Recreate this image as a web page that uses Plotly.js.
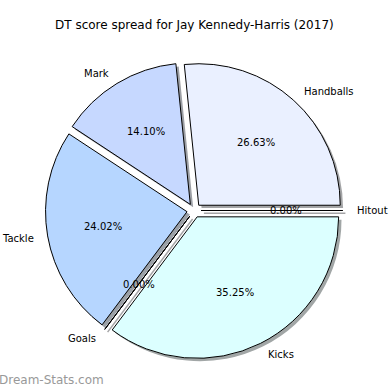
<!DOCTYPE html>
<html>
<head>
<meta charset="utf-8">
<script src="https://cdn.plot.ly/plotly-3.0.1.min.js"></script>
<style>html,body{margin:0;padding:0;background:#fff;}#chart{width:390px;height:390px;}</style>
</head>
<body>
<div id="chart"></div>
<script>
// Data (order as drawn, counterclockwise from 3 o'clock)
const categories = ["Handballs", "Mark", "Tackle", "Goals", "Kicks", "Hitout"];
const percentages = [26.63, 14.10, 24.02, 0.00, 35.25, 0.00];
const sliceColors = ["#eaf0ff", "#c6d8ff", "#b6d6ff", "#f0f0ff", "#dcffff", "#f0f0ff"];
const chartTitle = "DT score spread for Jay Kennedy-Harris (2017)";
const watermark = "Dream-Stats.com";

// Layout geometry (pixels)
const W = 390, H = 390;
const cx = 194, cy = 210.5, R = 141.5;
const explode = 0.05;
const labelDist = 1.085;
const pctDist = 0.6;
const shadowOff = 0.02 * R;
const half = R * (1 + explode);
const px = x => x / W;
const py = y => 1 - y / H;

const domain = {x: [px(cx - half), px(cx + half)], y: [py(cy + half), py(cy - half)]};
const shadowDomain = {x: [px(cx - half + shadowOff), px(cx + half + shadowOff)],
                      y: [py(cy + half + shadowOff), py(cy - half + shadowOff)]};

function shadowColor(hex) {
  const r = parseInt(hex.slice(1,3),16), g = parseInt(hex.slice(3,5),16), b = parseInt(hex.slice(5,7),16);
  const f = c => Math.round(0.5 * c * 0.3 + 0.5 * 255);
  return `rgb(${f(r)},${f(g)},${f(b)})`;
}

const total = percentages.reduce((a, b) => a + b, 0);
// Plotly places the first counterclockwise slice ending at the rotation point,
// so rotate by the first slice's angle to make it start at 3 o'clock.
const rot = 90 - percentages[0] / total * 360;

const pulls = categories.map(() => explode);
const shadowTrace = {
  type: "pie", values: percentages, labels: categories, sort: false,
  direction: "counterclockwise", rotation: rot, pull: pulls,
  marker: {colors: sliceColors.map(shadowColor), line: {width: 0}},
  textinfo: "none", hoverinfo: "skip", showlegend: false, domain: shadowDomain
};
const mainTrace = {
  type: "pie", values: percentages, labels: categories, sort: false,
  direction: "counterclockwise", rotation: rot, pull: pulls,
  marker: {colors: sliceColors, line: {color: "#000", width: 1}},
  textinfo: "none", showlegend: false, domain: domain
};

// Text positions computed from the data (matplotlib-style)
const annotations = [];
const shapes = [];
let cum = 0;
percentages.forEach((v, i) => {
  const a0 = cum / total * 2 * Math.PI;
  cum += v;
  const a1 = cum / total * 2 * Math.PI;
  const mid = (a0 + a1) / 2;
  const dx = Math.cos(mid), dy = -Math.sin(mid);
  const ox = cx + explode * R * dx, oy = cy + explode * R * dy;
  annotations.push({xref: "paper", yref: "paper", x: px(ox + pctDist * R * dx), y: py(oy + pctDist * R * dy),
    text: v.toFixed(2) + "%", showarrow: false, xanchor: "center", yanchor: "middle",
    font: {family: "DejaVu Sans", size: 10, color: "#000"}});
  annotations.push({xref: "paper", yref: "paper", x: px(ox + labelDist * R * dx), y: py(oy + labelDist * R * dy),
    text: categories[i], showarrow: false, xanchor: dx > 0 ? "left" : "right", yanchor: "middle",
    font: {family: "DejaVu Sans", size: 10, color: "#000"}});
  if (v === 0) {
    shapes.push({type: "line", xref: "paper", yref: "paper", layer: "below",
      x0: px(ox + shadowOff), y0: py(oy + shadowOff), x1: px(ox + R * dx + shadowOff), y1: py(oy + R * dy + shadowOff),
      line: {color: shadowColor(sliceColors[i]), width: 1.5}});
    shapes.push({type: "line", xref: "paper", yref: "paper", layer: "above",
      x0: px(ox), y0: py(oy), x1: px(ox + R * dx), y1: py(oy + R * dy),
      line: {color: "#000", width: 1}});
  }
});

annotations.push({xref: "paper", yref: "paper", x: px(cx), y: py(25), text: chartTitle, showarrow: false,
  xanchor: "center", yanchor: "middle", font: {family: "DejaVu Sans", size: 12, color: "#000"}});
annotations.push({xref: "paper", yref: "paper", x: 0, y: py(380), text: watermark, showarrow: false,
  xanchor: "left", yanchor: "middle", xshift: -3, font: {family: "DejaVu Sans", size: 12, color: "#999"}});

const layout = {
  width: W, height: H, margin: {l: 0, r: 0, t: 0, b: 0},
  paper_bgcolor: "#fff", plot_bgcolor: "#fff",
  annotations: annotations, shapes: shapes
};

Plotly.newPlot("chart", [shadowTrace, mainTrace], layout, {displayModeBar: false, staticPlot: true});
</script>
</body>
</html>
